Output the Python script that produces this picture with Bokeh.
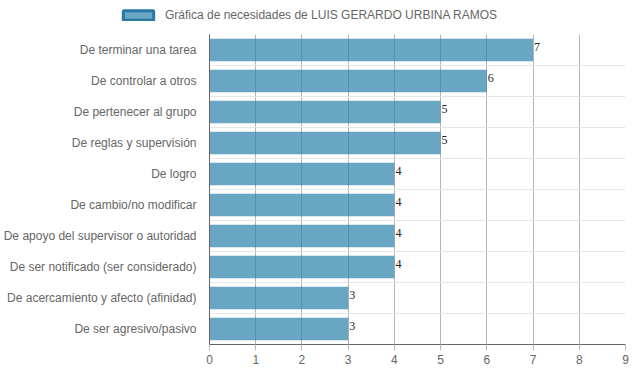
from bokeh.plotting import figure
from bokeh.models import (ColumnDataSource, Range1d, FixedTicker, Legend, LegendItem, LabelSet)
from bokeh.embed import file_html
from bokeh.resources import INLINE

categories = [
    "De terminar una tarea",
    "De controlar a otros",
    "De pertenecer al grupo",
    "De reglas y supervisión",
    "De logro",
    "De cambio/no modificar",
    "De apoyo del supervisor o autoridad",
    "De ser notificado (ser considerado)",
    "De acercamiento y afecto (afinidad)",
    "De ser agresivo/pasivo",
]
values = [7, 6, 5, 5, 4, 4, 4, 4, 3, 3]
x_ticks = [0, 1, 2, 3, 4, 5, 6, 7, 8, 9]
series_name = "Gráfica de necesidades de LUIS GERARDO URBINA RAMOS"

ypos = list(range(len(categories)))
src = ColumnDataSource(dict(y=ypos, v=values, lab=[str(v) for v in values]))

FONT = "Liberation Sans"
BAR_FILL = "#2a80ab"

# ---- legend strip (separate root, so its frame is not aligned to the chart) ----
lg = figure(width=629, height=34, output_backend="svg", toolbar_location=None,
            x_range=Range1d(0, 1), y_range=Range1d(0, 1),
            x_axis_location=None, y_axis_location=None,
            min_border_left=0, min_border_top=0, min_border_right=0, min_border_bottom=0)
lg.grid.visible = False
lg.outline_line_color = None
dummy = lg.hbar(y=[float("nan")], right=[float("nan")], left=0, height=0.72,
                fill_color=BAR_FILL, fill_alpha=0.7,
                line_color="#2a78a6", line_width=3)
legend = Legend(items=[LegendItem(label=series_name, renderers=[dummy])],
                orientation="horizontal", location=(119, 12),
                label_text_font=FONT, label_text_font_size="12px",
                label_text_color="#666666", glyph_width=38, glyph_height=12,
                border_line_color=None, background_fill_alpha=0,
                margin=0, padding=2, label_standoff=8)
lg.add_layout(legend, "center")

# ---- main chart ----
p = figure(width=629, height=332, output_backend="svg", toolbar_location=None,
           x_range=Range1d(0, 9), y_range=Range1d(len(categories) - 0.5, -0.5),
           min_border_left=0, min_border_top=0, min_border_right=4, min_border_bottom=0)
p.outline_line_color = None
p.background_fill_color = "white"

bars = p.hbar(y="y", right="v", left=0, height=0.72, source=src,
              fill_color=BAR_FILL, fill_alpha=0.7, line_color=None)

labels = LabelSet(x="v", y="y", text="lab", source=src, x_offset=1, y_offset=3,
                  text_baseline="middle", text_align="left", text_font_size="12px",
                  text_color="#222222", text_font="DejaVu Serif")
p.add_layout(labels)

# x axis
p.xaxis.ticker = FixedTicker(ticks=x_ticks)
p.xaxis.axis_line_color = "#666666"
p.xaxis.major_tick_line_color = "#bbbbbb"
p.xaxis.major_tick_in = 0
p.xaxis.major_tick_out = 6
p.xaxis.minor_tick_line_color = None
p.xaxis.major_label_text_font = FONT
p.xaxis.major_label_text_font_size = "12px"
p.xaxis.major_label_text_color = "#666666"
p.xaxis.major_label_standoff = 4

# y axis
p.yaxis.ticker = FixedTicker(ticks=ypos)
p.yaxis.major_label_overrides = {i: c for i, c in enumerate(categories)}
p.yaxis.axis_line_color = "#666666"
p.yaxis.major_tick_line_color = None
p.yaxis.minor_tick_line_color = None
p.yaxis.major_label_text_font = FONT
p.yaxis.major_label_text_font_size = "12px"
p.yaxis.major_label_text_color = "#666666"
p.yaxis.major_label_standoff = 7

# grids
p.xgrid.ticker = FixedTicker(ticks=x_ticks)
p.xgrid.grid_line_color = "#b5b5b5"
p.ygrid.ticker = FixedTicker(ticks=[i - 0.5 for i in range(len(categories) + 1)])
p.ygrid.grid_line_color = "#e6e6e6"

open("out.html", "w").write(file_html([lg, p], INLINE))
